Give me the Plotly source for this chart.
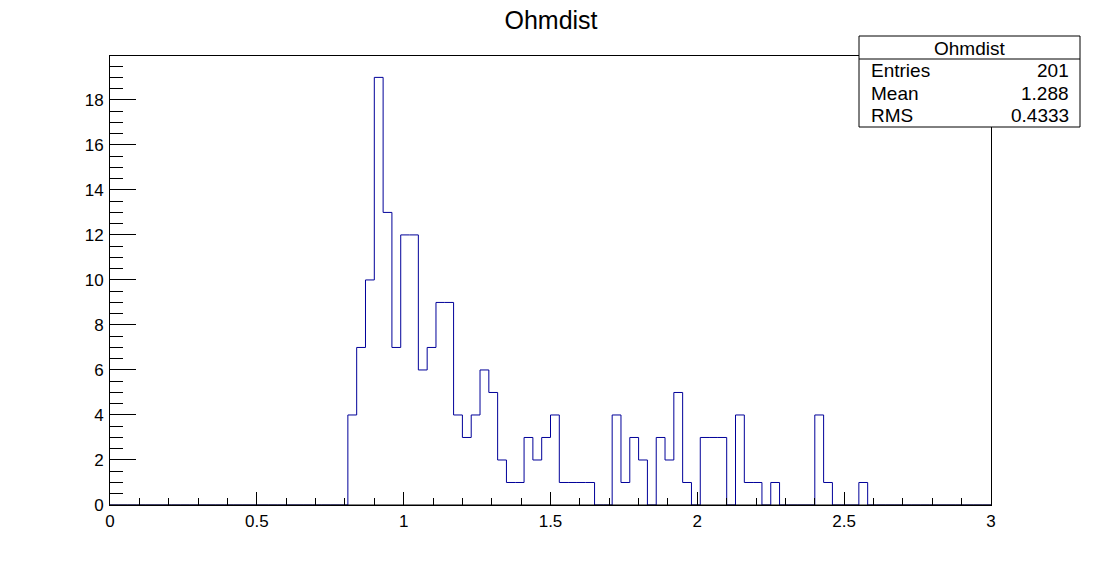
import plotly.graph_objects as go

# ---- data ----
x_min, x_max, n_bins = 0.0, 3.0, 100
counts = [0] * 27 + [
    4, 7, 10, 19, 13, 7, 12, 12, 6, 7,      # bins 27-36
    9, 9, 4, 3, 4, 6, 5, 2, 1, 1,           # bins 37-46
    3, 2, 3, 4, 1, 1, 1, 1, 0, 0,           # bins 47-56
    4, 1, 3, 2, 0, 3, 2, 5, 1, 0,           # bins 57-66
    3, 3, 3, 0, 4, 1, 1, 0, 1, 0,           # bins 67-76
    0, 0, 0, 4, 1, 0, 0, 0, 1,              # bins 77-85
] + [0] * 14
stats_title = "Ohmdist"
stats_labels = ["Entries", "Mean", "RMS"]
stats_values = ["201", "1.288", "0.4333"]
y_max = 19.95

bw = (x_max - x_min) / n_bins
edges = [x_min + i * bw for i in range(n_bins + 1)]
ys = counts + [counts[-1]]

W, H = 1102, 562
L, R, T, B = 110, 991, 56, 505
FONT = "Liberation Sans, Arial, Helvetica, sans-serif"


def px(x):
    return (x - L) / (R - L)


def py(y):
    return (B - y) / (B - T)


fig = go.Figure()
fig.add_trace(go.Scatter(
    x=edges, y=ys, mode="lines", line=dict(shape="hv", color="#000099", width=1),
    hoverinfo="skip", showlegend=False,
))

fig.update_layout(
    width=W, height=H,
    margin=dict(l=L, r=W - R, t=T, b=H - B, pad=0),
    paper_bgcolor="white", plot_bgcolor="white",
    font=dict(family=FONT, color="black"),
    title=dict(text="Ohmdist", x=0.5, xref="container", xanchor="center",
               y=1 - 20 / H, yref="container", yanchor="middle",
               font=dict(size=25, family=FONT, color="black")),
    showlegend=False,
)
fig.update_xaxes(
    range=[x_min, x_max], showgrid=False, zeroline=False,
    showline=True, linecolor="black", linewidth=1, mirror=True,
    ticks="inside", ticklen=13, tickwidth=1, tickcolor="black",
    tick0=0, dtick=0.5, tickfont=dict(size=17, family=FONT, color="black"),
    ticklabelstandoff=1,
    minor=dict(ticks="inside", ticklen=7, tickwidth=1, tickcolor="black", dtick=0.1, showgrid=False),
    fixedrange=True,
)
fig.update_yaxes(
    range=[0, y_max], showgrid=False, zeroline=False,
    showline=True, linecolor="black", linewidth=1, mirror=True,
    ticks="inside", ticklen=26, tickwidth=1, tickcolor="black",
    tick0=0, dtick=2, tickfont=dict(size=17, family=FONT, color="black"),
    ticklabelstandoff=2,
    minor=dict(ticks="inside", ticklen=13, tickwidth=1, tickcolor="black", dtick=0.5, showgrid=False),
    fixedrange=True,
)

# black baseline (axis drawn over histogram as in ROOT)
fig.add_shape(type="line", xref="paper", yref="paper", x0=0, x1=1, y0=0, y1=0,
              line=dict(color="black", width=1), layer="above")

# ---- stats box ----
bx0, bx1, by0, by1, bsep = 859, 1080, 36, 127, 59
fig.add_shape(type="rect", xref="paper", yref="paper",
              x0=px(bx0), x1=px(bx1), y0=py(by1), y1=py(by0),
              line=dict(color="black", width=1), fillcolor="white", layer="above")
fig.add_shape(type="line", xref="paper", yref="paper",
              x0=px(bx0), x1=px(bx1), y0=py(bsep), y1=py(bsep),
              line=dict(color="black", width=1), layer="above")
fig.add_annotation(xref="paper", yref="paper", x=px((bx0 + bx1) / 2), y=py(48),
                   text=stats_title, showarrow=False, xanchor="center", yanchor="middle",
                   font=dict(size=19, family=FONT, color="black"))
row_y = [71, 93, 116]
for lab, val, yy in zip(stats_labels, stats_values, row_y):
    fig.add_annotation(xref="paper", yref="paper", x=px(869), y=py(yy), text=lab,
                       showarrow=False, xanchor="left", yanchor="middle",
                       font=dict(size=19, family=FONT, color="black"))
    fig.add_annotation(xref="paper", yref="paper", x=px(1071), y=py(yy), text=val,
                       showarrow=False, xanchor="right", yanchor="middle",
                       font=dict(size=19, family=FONT, color="black"))

fig.write_html("out.html")
